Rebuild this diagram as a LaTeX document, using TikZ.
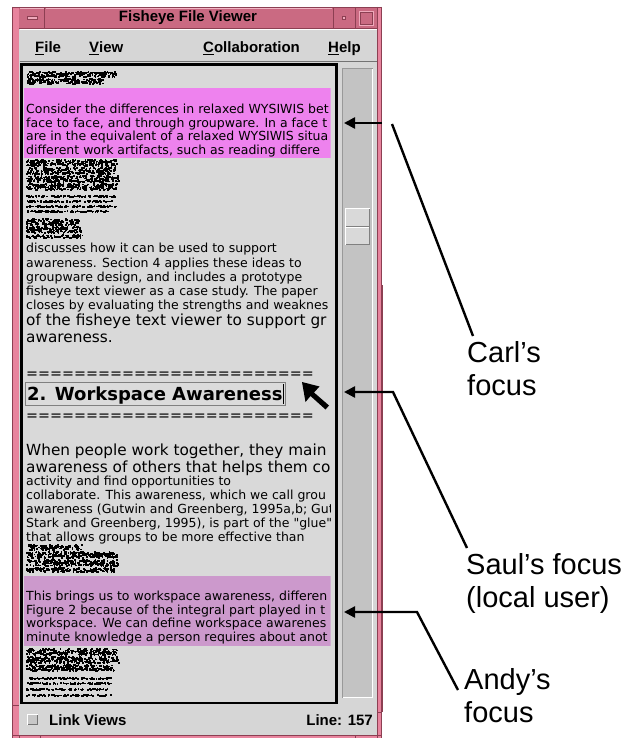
\documentclass[tikz,border=0pt]{standalone}
\usepackage{fontspec}
\setmainfont{Liberation Sans}
\newfontfamily\uifont{DejaVu Sans}
\usetikzlibrary{arrows.meta}
\definecolor{framepink}{HTML}{E8849E}
\definecolor{titlepink}{HTML}{CA6A82}
\definecolor{titledark}{HTML}{8C3F52}
\definecolor{wingray}{HTML}{D6D6D6}
\definecolor{textgray}{HTML}{D9D9D9}
\definecolor{trough}{HTML}{C3C3C3}
\definecolor{carlpink}{HTML}{EE82EE}
\definecolor{andypurple}{HTML}{CC99CC}
% greeked (unreadable) text: random dark specks inside a band
\newcommand{\greekrow}[4]{%
  \pgfmathtruncatemacro{\gn}{(#2-#1)*#4*0.34}%
  \foreach \k in {1,...,\gn}{%
    \fill ({#1+rnd*(#2-#1-1.7)},{#3+rnd*(#4-1.7)}) rectangle ++(1.7,1.7);%
  }%
}
\begin{document}
\begin{tikzpicture}[x=1pt,y=-1pt,
  body/.style={anchor=base west, inner sep=0pt, font=\uifont\fontsize{12.5}{14}\selectfont},
  bigbody/.style={anchor=base west, inner sep=0pt, font=\uifont\fontsize{15.3}{17}\selectfont},
  eqline/.style={anchor=base west, inner sep=0pt, font=\uifont\fontsize{14.3}{16}\selectfont},
  menutext/.style={anchor=base west, inner sep=0pt, font=\bfseries\fontsize{15}{17}\selectfont},
  lbl/.style={anchor=north west, inner sep=0pt, align=left, font=\fontsize{29}{33}\selectfont},
  conn/.style={line width=2.4pt, black},
  arr/.style={conn, -{Triangle[length=11pt,width=11pt]}}
]
\pgfmathsetseed{12}
\useasboundingbox (0,0) rectangle (641,738);

% ---------- window frame ----------
\fill[framepink] (12,7) rectangle (382,738);
\draw[titledark, line width=0.8pt] (12.4,7) -- (12.4,738);
\draw[titledark, line width=0.8pt] (381.6,7) -- (381.6,738);
\draw[titledark, line width=0.6pt] (19,7) -- (19,738);
\draw[titledark, line width=0.6pt] (377,7) -- (377,738);
\draw[titledark, line width=1.2pt] (382.6,285) -- (382.6,712);
\fill[wingray] (19.3,29) rectangle (376.7,735);
\draw[titledark, line width=0.6pt] (12,735) -- (382,735);
\draw[titledark, line width=0.6pt] (40,735) -- (40,738);
\draw[titledark, line width=0.6pt] (355,735) -- (355,738);
\draw[titledark, line width=0.6pt] (12,705) -- (19,705);
\draw[titledark, line width=0.6pt] (377,712) -- (382,712);

% ---------- title bar ----------
\fill[titlepink] (19,7.5) rectangle (377,28);
\draw[titledark, line width=0.7pt] (12,7.4) -- (382,7.4);
\draw[titledark, line width=0.7pt] (19,28.3) -- (377,28.3);
\draw[titledark, line width=0.7pt] (44.5,7.5) -- (44.5,28);
\draw[titledark, line width=0.7pt] (333,7.5) -- (333,28);
\draw[titledark, line width=0.7pt] (355.5,7.5) -- (355.5,28);
\draw[framepink!60!white, line width=0.6pt] (20,8.5) -- (43.5,8.5);
\draw[framepink!60!white, line width=0.6pt] (46,8.5) -- (332,8.5);
\fill[framepink!70!white, draw=titledark, line width=0.5pt] (27,16.2) rectangle (37.5,19);
\fill[framepink!70!white, draw=titledark, line width=0.5pt] (342.5,16) rectangle (345.5,19);
\draw[framepink!70!white, line width=0.7pt] (359.5,11) rectangle (373.5,25);
\draw[titledark, line width=0.5pt] (360.5,12) rectangle (372.5,24);
\node[anchor=base, inner sep=0pt, font=\bfseries\fontsize{15}{17}\selectfont] (title) at (188,21.5) {Fisheye File Viewer};

% ---------- menu bar ----------
\draw[white, line width=0.8pt] (19.5,29.6) -- (376.5,29.6);
\draw[black!55, line width=0.8pt] (19.5,61.8) -- (376.5,61.8);
\node[menutext] (mfile) at (35,52.5) {\underline{F}ile};
\node[menutext] (mview) at (89,52.5) {\underline{V}iew};
\node[menutext] (mcoll) at (203,52.5) {\underline{C}ollaboration};
\node[menutext] (mhelp) at (328,52.5) {\underline{H}elp};

% ---------- text area ----------
\fill[textgray] (21.5,64.5) rectangle (336.5,703);
\draw[black, line width=2.5pt] (21.5,64.5) rectangle (336.5,703);

% ---------- scrollbar ----------
\fill[trough] (342,68) rectangle (373,698);
\draw[black!40, line width=1pt] (342.5,698) -- (342.5,68.5) -- (373,68.5);
\draw[white, line width=1.2pt] (372.4,69) -- (372.4,697.4) -- (343,697.4);
\fill[textgray] (345,208) rectangle (370,245);
\draw[white, line width=1pt] (345.5,245) -- (345.5,208.5) -- (370,208.5);
\draw[black!50, line width=1pt] (369.5,209) -- (369.5,244.5) -- (345.5,244.5);
\draw[black!50, line width=0.8pt] (346,226.6) -- (369,226.6);
\draw[white, line width=0.8pt] (346,227.6) -- (369,227.6);

% ---------- document view (clipped) ----------
\begin{scope}
\clip (24,66.5) rectangle (330.5,701);
\fill[carlpink] (24,88) rectangle (330.5,158);
\fill[andypurple] (24,576) rectangle (330.5,646);

% greeked rows
\greekrow{26}{117}{71}{7}
\greekrow{26}{104}{78}{7}
\greekrow{26}{118}{159}{8}
\greekrow{26}{116}{167}{8}
\greekrow{26}{120}{175}{8}
\greekrow{26}{118}{183}{8}
\greekrow{26}{117}{195}{3}
\greekrow{26}{116}{200}{3}
\greekrow{26}{118}{205}{3}
\greekrow{26}{112}{210}{3}
\greekrow{26}{80}{218}{8}
\greekrow{26}{82}{226}{8}
\greekrow{26}{84}{234}{5}
\greekrow{26}{83}{544}{7}
\greekrow{26}{118}{551}{8}
\greekrow{26}{120}{559}{8}
\greekrow{26}{116}{567}{6}
\greekrow{26}{118}{648}{8}
\greekrow{26}{120}{656}{8}
\greekrow{26}{116}{664}{8}
\greekrow{26}{112}{677}{3}
\greekrow{26}{114}{682}{3}
\greekrow{26}{110}{688}{3}
\greekrow{26}{112}{694}{3}

% Carl's highlighted paragraph
\node[body] (c1) at (26,114) {Consider the differences in relaxed WYSIWIS bet};
\node[body] (c2) at (26,127.5) {face to face, and through groupware. In a face t};
\node[body] (c3) at (26,141) {are in the equivalent of a relaxed WYSIWIS situa};
\node[body] (c4) at (26,154.5) {different work artifacts, such as reading differe};

\node[body] (t1) at (26,252) {discusses how it can be used to support};
\node[body] (t2) at (26,267) {awareness. Section 4 applies these ideas to};
\node[body] (t3) at (26,281) {groupware design, and includes a prototype};
\node[body] (t4) at (26,295) {fisheye text viewer as a case study. The paper};
\node[body] (t5) at (26,309) {closes by evaluating the strengths and weaknes};
\node[bigbody] (t6) at (26,325) {of the fisheye text viewer to support gr};
\node[bigbody] (t7) at (26,342) {awareness.};

\node[eqline] (eq1) at (26,378) {========================};
\fill[black!14, draw=black!50, line width=0.8pt] (25,382) rectangle (285,405);
\node[anchor=base west, inner sep=0pt, font=\uifont\bfseries\fontsize{18}{20}\selectfont] (head) at (27,400) {2. Workspace Awareness};
\draw[black, line width=1.6pt] (283.5,384) -- (283.5,404);
\node[eqline] (eq2) at (26,420) {========================};

\node[bigbody] (s1) at (26,455) {When people work together, they main};
\node[bigbody] (s2) at (26,472) {awareness of others that helps them co};
\node[body] (s3) at (26,485) {activity and find opportunities to};
\node[body] (s4) at (26,499) {collaborate. This awareness, which we call grou};
\node[body] (s5) at (26,513) {awareness (Gutwin and Greenberg, 1995a,b; Gut};
\node[body] (s6) at (26,527) {Stark and Greenberg, 1995), is part of the "glue"};
\node[body] (s7) at (26,541) {that allows groups to be more effective than};

% Andy's highlighted paragraph
\node[body] (a1) at (26,600) {This brings us to workspace awareness, differen};
\node[body] (a2) at (26,614) {Figure 2 because of the integral part played in t};
\node[body] (a3) at (26,627.5) {workspace. We can define workspace awarenes};
\node[body] (a4) at (26,641) {minute knowledge a person requires about anot};
\end{scope}

% mouse pointer
\fill[black] (302,382) -- (319.5,386.5) -- (314,392.5) -- (329,405.5) -- (325.5,409.5) -- (310.5,396) -- (305.5,402) -- cycle;

% ---------- status bar ----------
\fill[black!22] (27,714) rectangle (38,725);
\draw[white, line width=0.9pt] (27.5,725) -- (27.5,714.5) -- (38,714.5);
\draw[black!55, line width=0.9pt] (37.5,715) -- (37.5,724.5) -- (28,724.5);
\node[menutext] (link) at (49,725) {Link Views};
\node[anchor=base east, inner sep=0pt, font=\bfseries\fontsize{15}{17}\selectfont] (line) at (373,725) {Line: 157};

% ---------- labels ----------
\node[lbl] (carl) at (467,341) {Carl’s\\focus};
\node[lbl] (saul) at (466,553) {Saul’s focus\\(local user)};
\node[lbl] (andy) at (464,668) {Andy’s\\focus};

% ---------- connectors ----------
\coordinate (carltail) at (382,123);
\coordinate (carltip) at (344,123);
\coordinate (carltop) at (392,124);
\coordinate (carlend) at (473,336);
\coordinate (saultip) at (344,392);
\coordinate (saulcorner) at (393,392);
\coordinate (saulend) at (467,548);
\coordinate (andytip) at (344,612);
\coordinate (andycorner) at (417,612);
\coordinate (andyend) at (458,690);

\draw[arr] (carltail) -- (carltip);
\draw[conn] (carltop) -- (carlend);
\draw[arr] (saulend) -- (saulcorner) -- (saultip);
\draw[arr] (andyend) -- (andycorner) -- (andytip);
\end{tikzpicture}
\end{document}
